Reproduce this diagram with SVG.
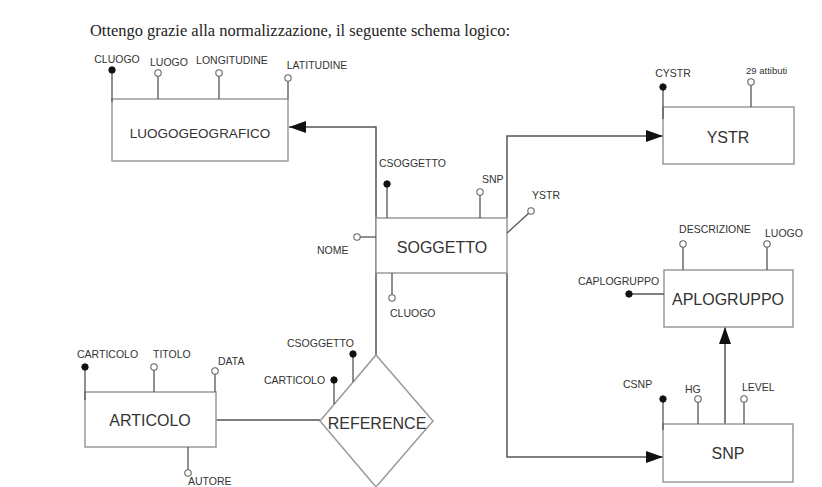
<svg xmlns="http://www.w3.org/2000/svg" width="822" height="487" viewBox="0 0 822 487">
<defs>
<style>
.box{fill:#fff;stroke:#9a9a9a;stroke-width:1.5}
.conn{fill:none;stroke:#555;stroke-width:1.5}
.att{stroke:#555;stroke-width:1.3;fill:none}
.ko{fill:#111;stroke:#111;stroke-width:1}
.op{fill:#fff;stroke:#666;stroke-width:1.1}
.lbl{font-family:"Liberation Sans",Arial,sans-serif;font-size:16px;fill:#333;text-anchor:middle}
.a{font-family:"Liberation Sans",Arial,sans-serif;font-size:10.5px;fill:#333}
.title{font-family:"Liberation Serif","Times New Roman",serif;font-size:16px;fill:#222}
</style>
<marker id="arr" markerUnits="userSpaceOnUse" markerWidth="18" markerHeight="12" refX="17" refY="6" orient="auto">
<path d="M0,0 L17,6 L0,12 Z" fill="#111"/>
</marker>
</defs>
<rect width="822" height="487" fill="#fff"/>
<text class="title" x="90" y="36" textLength="420" lengthAdjust="spacingAndGlyphs">Ottengo grazie alla normalizzazione, il seguente schema logico:</text>

<g id="connectors">
<path class="conn" d="M376,355 V127 H289" marker-end="url(#arr)"/>
<path class="conn" d="M507,218 V136 H663" marker-end="url(#arr)"/>
<path class="conn" d="M507,273 V457 H663" marker-end="url(#arr)"/>
<path class="conn" d="M725,424 V327" marker-end="url(#arr)"/>
<path class="conn" d="M216,420 H320"/>
</g>

<g id="luogogeografico">
<rect class="box" x="112" y="99" width="176" height="62"/>
<text class="lbl" x="200" y="138" style="font-size:13.5px">LUOGOGEOGRAFICO</text>
<line class="att" x1="112" y1="70" x2="112" y2="102"/><circle class="ko" cx="112" cy="70" r="3.2"/>
<text class="a" x="117" y="63" text-anchor="middle">CLUOGO</text>
<line class="att" x1="158" y1="76" x2="158" y2="99"/><circle class="op" cx="158" cy="73" r="3.2"/>
<text class="a" x="169" y="66" text-anchor="middle">LUOGO</text>
<line class="att" x1="219" y1="76" x2="219" y2="99"/><circle class="op" cx="219" cy="73" r="3.2"/>
<text class="a" x="232" y="64" text-anchor="middle">LONGITUDINE</text>
<line class="att" x1="288" y1="81" x2="288" y2="99"/><circle class="op" cx="288" cy="78" r="3.2"/>
<text class="a" x="317" y="69" text-anchor="middle">LATITUDINE</text>
</g>

<g id="soggetto">
<rect class="box" x="376" y="218" width="131" height="55"/>
<text class="lbl" x="442" y="253">SOGGETTO</text>
<line class="att" x1="387" y1="184" x2="387" y2="218"/><circle class="ko" cx="387" cy="184" r="3.2"/>
<text class="a" x="379" y="167">CSOGGETTO</text>
<line class="att" x1="480" y1="195" x2="480" y2="218"/><circle class="op" cx="480" cy="192" r="3.2"/>
<text class="a" x="482" y="183">SNP</text>
<line class="att" x1="507" y1="233" x2="529" y2="213"/><circle class="op" cx="531" cy="211" r="3.2"/>
<text class="a" x="532" y="199">YSTR</text>
<line class="att" x1="360" y1="237" x2="376" y2="237"/><circle class="op" cx="357" cy="237" r="3.2"/>
<text class="a" x="317" y="254">NOME</text>
<line class="att" x1="392" y1="273" x2="392" y2="295"/><circle class="op" cx="392" cy="298" r="3.2"/>
<text class="a" x="390" y="317">CLUOGO</text>
</g>

<g id="ystr">
<rect class="box" x="663" y="107" width="131" height="57"/>
<text class="lbl" x="728" y="143">YSTR</text>
<line class="att" x1="663" y1="87" x2="663" y2="119"/><circle class="ko" cx="663" cy="87" r="3.2"/>
<text class="a" x="673" y="77" text-anchor="middle">CYSTR</text>
<line class="att" x1="751" y1="85" x2="751" y2="107"/><circle class="op" cx="751" cy="82" r="3.2"/>
<text class="a" x="746" y="74" style="font-size:9.5px">29 attibuti</text>
</g>

<g id="aplogruppo">
<rect class="box" x="664" y="270" width="129" height="57"/>
<text class="lbl" x="728" y="305">APLOGRUPPO</text>
<line class="att" x1="683" y1="247" x2="683" y2="270"/><circle class="op" cx="683" cy="244" r="3.2"/>
<text class="a" x="715" y="233" text-anchor="middle">DESCRIZIONE</text>
<line class="att" x1="767" y1="247" x2="767" y2="270"/><circle class="op" cx="767" cy="244" r="3.2"/>
<text class="a" x="765" y="237">LUOGO</text>
<line class="att" x1="629" y1="294" x2="664" y2="294"/><circle class="ko" cx="629" cy="294" r="3.2"/>
<text class="a" x="578" y="285">CAPLOGRUPPO</text>
</g>

<g id="snp">
<rect class="box" x="663" y="424" width="130" height="58"/>
<text class="lbl" x="728" y="459">SNP</text>
<line class="att" x1="663" y1="399" x2="663" y2="430"/><circle class="ko" cx="663" cy="399" r="3.2"/>
<text class="a" x="623" y="388">CSNP</text>
<line class="att" x1="698" y1="402" x2="698" y2="424"/><circle class="op" cx="698" cy="399" r="3.2"/>
<text class="a" x="685" y="393">HG</text>
<line class="att" x1="744" y1="402" x2="744" y2="424"/><circle class="op" cx="744" cy="399" r="3.2"/>
<text class="a" x="742" y="391">LEVEL</text>
</g>

<g id="articolo">
<rect class="box" x="85" y="392" width="131" height="55"/>
<text class="lbl" x="150" y="426">ARTICOLO</text>
<line class="att" x1="85" y1="367" x2="85" y2="400"/><circle class="ko" cx="85" cy="367" r="3.2"/>
<text class="a" x="77" y="358">CARTICOLO</text>
<line class="att" x1="154" y1="370" x2="154" y2="392"/><circle class="op" cx="154" cy="367" r="3.2"/>
<text class="a" x="153" y="358">TITOLO</text>
<line class="att" x1="215" y1="374" x2="215" y2="392"/><circle class="op" cx="215" cy="371" r="3.2"/>
<text class="a" x="218" y="365">DATA</text>
<line class="att" x1="188" y1="447" x2="188" y2="470"/><circle class="op" cx="188" cy="473" r="3.2"/>
<text class="a" x="188" y="485">AUTORE</text>
</g>

<g id="reference">
<polygon class="box" points="376,355 433,421 376,487 320,421"/>
<text class="lbl" x="377" y="429">REFERENCE</text>
<line class="att" x1="353" y1="354" x2="353" y2="382"/><circle class="ko" cx="353" cy="354" r="3.2"/>
<text class="a" x="287" y="347">CSOGGETTO</text>
<line class="att" x1="334" y1="380" x2="334" y2="404"/><circle class="ko" cx="334" cy="380" r="3.2"/>
<text class="a" x="264" y="384">CARTICOLO</text>
</g>
</svg>
